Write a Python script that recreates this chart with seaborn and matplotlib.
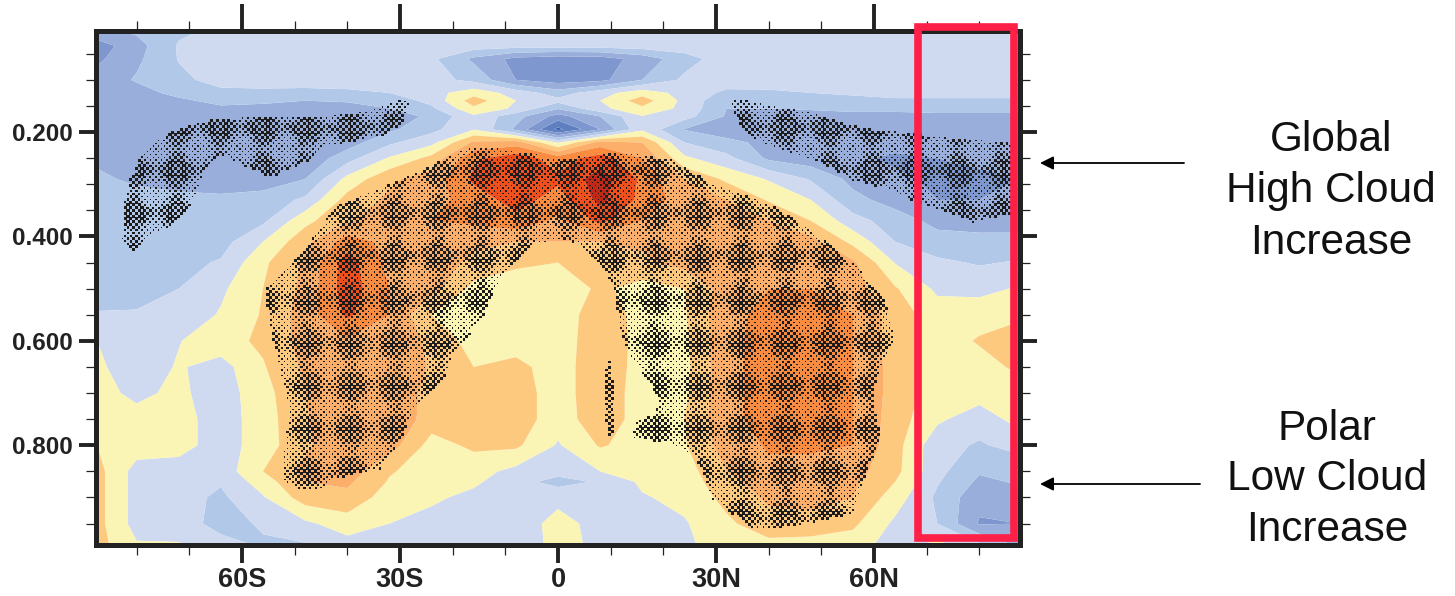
import numpy as np
import pandas as pd
import matplotlib
matplotlib.use("Agg")
import matplotlib.pyplot as plt
import seaborn as sns
from matplotlib.colors import ListedColormap, BoundaryNorm
from matplotlib.patches import Rectangle
from matplotlib.path import Path
from matplotlib.ticker import FixedLocator

# =========================
# Data
# =========================
lats = [-87.5, -80, -72, -64, -56, -48, -40, -32, -24, -16, -8, 0, 8, 16, 24, 32, 40, 48, 56, 64, 72, 80, 87.5]
sigmas = [0.005, 0.035, 0.06, 0.10, 0.125, 0.14, 0.155, 0.17, 0.195, 0.22, 0.25, 0.29, 0.33, 0.37, 0.41, 0.45, 0.50,
          0.55, 0.60, 0.65, 0.70, 0.75, 0.80, 0.85, 0.87, 0.90, 0.95, 0.991]

s005 = [-2.2, -1.8, -1.2, -0.8, -0.6, -0.5, -0.5, -0.5, -0.5, -0.5, -0.5, -0.5, -0.5, -0.5, -0.5, -0.5, -0.5, -0.5, -0.5, -0.5, -0.5, -0.5, -0.5]
s035 = [-3.5, -2.4, -0.9, -0.5, -0.5, -0.5, -0.5, -0.5, -0.5, -0.5, -0.6, -0.6, -0.6, -0.5, -0.5, -0.5, -0.5, -0.5, -0.5, -0.5, -0.5, -0.5, -0.5]
s060 = [-3.2, -2.2, -0.95, -0.5, -0.5, -0.5, -0.5, -0.5, -0.8, -2.2, -3.3, -3.6, -3.5, -2.6, -1.4, -0.5, -0.5, -0.5, -0.5, -0.5, -0.5, -0.5, -0.5]
s100 = [-2.6, -1.9, -1.2, -0.7, -0.6, -0.5, -0.5, -0.5, -0.6, -1.3, -3.0, -3.5, -3.3, -2.0, -0.8, -0.5, -0.7, -0.7, -0.6, -0.5, -0.5, -0.5, -0.5]
s125 = [-2.6, -2.4, -1.7, -1.2, -1.2, -1.3, -1.2, -1.0, -0.4, 0.6, -0.4, -1.5, -0.4, 0.6, -0.4, -1.2, -1.1, -1.0, -0.9, -0.8, -0.8, -0.8, -0.8]
s140 = [-2.6, -2.5, -2.2, -1.7, -1.8, -2.0, -1.9, -1.6, -0.7, 1.5, 0.0, -0.7, 0.0, 1.5, -0.3, -1.8, -1.6, -1.4, -1.2, -1.1, -1.1, -1.1, -1.1]
s155 = [-2.6, -2.6, -2.4, -2.2, -2.3, -2.5, -2.4, -2.0, -1.2, 0.8, -0.2, -1.9, -0.3, 0.8, -0.3, -2.0, -2.0, -1.9, -1.7, -1.7, -1.6, -1.6, -1.6]
s170 = [-2.6, -2.6, -2.6, -2.6, -2.7, -2.8, -2.7, -2.5, -1.8, -0.2, -1.6, -3.4, -2.0, -0.05, -0.6, -2.1, -2.3, -2.4, -2.4, -2.4, -2.3, -2.3, -2.3]
s195 = [-2.6, -2.6, -2.6, -2.6, -2.7, -2.8, -2.7, -2.2, -1.3, -0.05, -2.2, -5.3, -3.0, -0.2, -2.05, -2.6, -2.7, -2.8, -2.8, -2.8, -2.8, -2.8, -2.8]
s220 = [-2.5, -2.6, -2.7, -2.7, -2.8, -2.7, -2.5, -1.2, -0.3, 2.2, 2.5, -0.1, 2.4, 2.0, -1.0, -1.7, -2.3, -2.7, -2.8, -2.8, -2.8, -2.8, -2.8]
s250 = [-2.1, -2.6, -2.7, -2.7, -2.8, -2.8, -1.4, 0.1, 1.3, 3.8, 4.6, 3.5, 4.5, 3.0, 0.2, -0.7, -2.2, -2.6, -2.9, -3.1, -3.0, -2.9, -2.9]
s290 = [-1.9, -2.1, -2.3, -2.5, -2.5, -2.0, 0.3, 1.8, 2.5, 4.2, 5.0, 4.2, 5.5, 3.8, 2.0, 0.8, -0.1, -1.1, -2.3, -2.9, -3.1, -3.1, -3.0]
s330 = [-1.7, -1.8, -1.8, -1.8, -1.6, -0.8, 1.4, 2.2, 2.6, 3.5, 4.4, 3.6, 5.3, 3.7, 2.5, 2.0, 0.9, 0.0, -1.7, -2.4, -3.0, -3.0, -2.9]
s370 = [-1.6, -1.6, -1.6, -1.5, -1.2, 0.7, 1.9, 2.6, 3.0, 3.2, 3.7, 2.8, 4.3, 3.0, 2.5, 2.3, 2.0, 1.0, -0.6, -1.5, -2.3, -2.4, -2.4]
s410 = [-1.5, -1.5, -1.5, -1.4, 0.0, 1.7, 3.5, 2.7, 2.8, 2.3, 2.0, 2.0, 2.0, 2.2, 2.7, 2.6, 2.3, 2.4, 0.7, -1.0, -1.6, -1.7, -1.7]
s450 = [-1.4, -1.4, -1.3, -0.9, 0.8, 2.2, 4.5, 2.7, 2.7, 1.7, 1.2, 1.0, 1.3, 1.8, 2.4, 2.6, 2.8, 2.6, 2.2, -0.05, -0.8, -1.1, -0.9]
s500 = [-1.6, -1.4, -1.0, -0.2, 1.0, 2.3, 4.6, 3.0, 2.4, 0.7, 0.4, 0.3, 1.2, 0.6, 1.0, 2.5, 3.0, 3.0, 2.5, 1.1, -0.2, -0.3, 0.1]
s550 = [-0.9, -0.9, -0.7, 0.1, 1.1, 2.5, 4.2, 3.0, 1.0, 0.6, 0.5, 0.5, 1.5, 0.7, 0.9, 2.8, 3.2, 3.2, 3.0, 1.5, 0.5, 0.6, 0.7]
s600 = [0.0, -0.5, -0.05, 0.6, 1.2, 2.4, 2.9, 3.0, 1.7, 0.6, 0.5, 0.5, 1.6, 0.7, 0.8, 2.8, 3.3, 3.3, 3.0, 1.5, 0.5, 1.1, 1.8]
s650 = [0.2, -0.6, 0.1, -0.4, 0.9, 2.2, 2.8, 2.8, 1.9, 1.0, 1.3, 0.5, 1.7, 0.6, 0.7, 2.8, 3.3, 3.3, 3.0, 1.6, 0.5, 0.6, 1.2]
s700 = [0.3, -0.2, 0.2, -0.5, 0.6, 2.0, 2.8, 2.9, 1.6, 1.5, 1.5, 0.5, 1.7, 0.5, 0.8, 2.8, 3.3, 3.3, 3.0, 1.6, 0.5, 0.5, 0.5]
s750 = [0.6, 0.3, 0.4, -0.5, 0.5, 1.9, 2.9, 2.9, 1.5, 1.5, 1.6, 0.4, 1.7, 0.5, 1.0, 2.8, 3.3, 3.2, 3.0, 1.5, 0.2, -0.6, 0.4]
s800 = [1.0, 0.5, 0.4, -0.5, 0.5, 1.8, 2.9, 2.5, 0.6, 1.2, 1.2, -0.1, 1.1, 0.6, 0.9, 2.5, 3.1, 3.1, 3.0, 1.4, -0.7, -1.1, -0.7]
s850 = [1.35, -0.4, -0.5, -0.6, 1.0, 2.3, 2.6, 1.1, 0.5, 0.4, -0.3, -0.7, 0.0, 0.4, 0.5, 2.0, 2.8, 2.8, 2.4, 1.3, -0.7, -1.9, -1.6]
s870 = [1.35, -0.4, -0.5, -0.9, 0.5, 2.0, 2.2, 0.9, 0.4, 0.2, -0.7, -1.3, -0.9, 0.2, 0.4, 1.7, 2.5, 2.6, 2.2, 1.0, -0.9, -2.2, -1.9]
s900 = [1.35, -0.4, -0.6, -1.2, -0.1, 1.5, 1.7, 0.5, 0.2, -0.3, -0.7, -0.4, -0.8, -0.1, 0.3, 1.3, 2.2, 2.4, 2.0, 0.5, -1.2, -2.7, -2.4]
s950 = [1.35, -0.4, -0.6, -1.3, -0.9, -0.2, 0.5, 0.0, -0.4, -0.6, -0.8, 0.5, -0.5, -0.6, -0.1, 0.8, 1.6, 1.6, 1.2, -0.2, -1.0, -3.1, -3.0]
s991 = [1.4, 0.1, 0.1, -0.7, -1.1, -1.1, -0.4, -0.3, -0.5, -0.7, -0.6, 0.3, -0.2, -0.7, -0.2, 0.5, 0.7, 0.6, 0.5, -0.5, 0.3, -0.8, -2.2]

bands = [-6, -5, -4, -3, -2, -1, 0, 1, 2, 3, 4, 5, 7]
band_colors = ["#3f66b0", "#5f7fc0", "#7e97cf", "#9aaedb", "#b2c8e8", "#cfdaf1",
               "#fbf5b5", "#fdc97e", "#fcae6b", "#f98c40", "#f0501e", "#c02818"]

# stippled regions (significant change)
main_lat = [-17.3, -12.3, -7.2, -4.0, -3.4, 4.8, 9.9, 14.3, 21.9, 25.7, 28.8, 33.9, 39.6, 42.1, 45.9, 52.2, 56.7, 61.7,
            62.4, 63.9, 61.1, 59.8, 61.1, 57.9, 56, 52.2, 43.4, 37.1, 29.5, 26.3, 20.9, 14.3, 14.9, 18.7, 19, 15.6, 13, 11.8, 10.8,
            9.5, 4.2, 0.4, -4.7, -10.4, -12.3, -14.8, -19.9, -21.8, -25.6, -27.8, -30, -33.8, -36.9, -43.3, -45.2, -48.3,
            -52.4, -52.1, -50.9, -52.8, -54.3, -55.6, -50.9, -45.8, -42.6, -33.1, -28.7, -25.6, -21.8]
main_sig = [.231, .228, .241, .241, .254, .247, .240, .241, .254, .279, .298, .314, .337, .349, .375, .420, .458, .515,
            .535, .595, .650, .707, .784, .873, .931, .940, .956, .959, .905, .822, .793, .787, .755, .739, .707, .656, .614, .579, .503,
            .477, .413, .407, .413, .471, .509, .563, .624, .675, .707, .742, .790, .844, .851, .867, .886, .886,
            .867, .822, .733, .650, .586, .503, .458, .394, .343, .305, .286, .273, .254]
south_lat = [-29.4, -28.4, -29.4, -33.1, -36.9, -39.5, -44.5, -48.3, -54.6, -59.1, -61.6, -64.1, -66.7, -68.3, -69.8, -74.3,
             -76.8, -80.6, -83.1, -82.2, -82.5, -81.2, -79.3, -74.3, -67.3, -59.1, -45.8, -38.8, -33.1]
south_sig = [.136, .145, .183, .206, .212, .219, .228, .260, .286, .266, .254, .241, .266, .305, .343, .385,
             .394, .429, .410, .388, .343, .292, .247, .203, .180, .172, .171, .164, .151]
north_lat = [32.6, 35.2, 39.6, 47.8, 56.7, 66.2, 75.7, 87.0, 87.0, 78.8, 72.5, 66.8, 63.6, 56, 50.3, 42.1, 37.7, 34.5]
north_sig = [.139, .139, .148, .161, .190, .203, .212, .222, .353, .372, .349, .330, .311, .292, .260, .234, .215, .183]
lobe_lat = [9.5, 10.2, 10.5, 10.5, 9.5, 8.9, 8.9]
lobe_sig = [.634, .650, .720, .784, .780, .720, .675]
tip_lat = [-0.5, 7, 7, -0.5]
tip_sig = [.0985, .0985, .1025, .1025]

x_ticks = [-60, -30, 0, 30, 60]
x_labels = ["60S", "30S", "0", "30N", "60N"]
y_ticks = [0.2, 0.4, 0.6, 0.8]
y_labels = ["0.200", "0.400", "0.600", "0.800"]
notes_top = ["Global", "High Cloud", "Increase"]
notes_bottom = ["Polar", "Low Cloud", "Increase"]

# =========================
# Figure
# =========================
sns.set_theme(style="ticks")
plt.rcParams["font.family"] = ["Liberation Sans", "DejaVu Sans"]

W, H = 1455, 596
fig = plt.figure(figsize=(W / 100, H / 100), dpi=100)
ax = fig.add_axes([96 / W, 1 - 545 / H, (1020.5 - 96) / W, (545 - 31) / H])

field = np.array([s005, s035, s060, s100, s125, s140, s155, s170, s195, s220, s250, s290, s330, s370, s410, s450, s500,
                  s550, s600, s650, s700, s750, s800, s850, s870, s900, s950, s991])
cmap = ListedColormap(sns.color_palette(band_colors))
ax.contourf(lats, sigmas, field, levels=bands, cmap=cmap, norm=BoundaryNorm(bands, cmap.N), antialiased=True)

ax.set_xlim(-87.7, 87.8)
ax.set_ylim(0.991, 0.0065)

# =========================
# Stippling
# =========================
step_x = 5.6 / 5.27
step_y = 2.8 / 522
grid_x, grid_y = np.meshgrid(np.arange(-88, 88, step_x), np.arange(0.05, 0.99, step_y))
grid_x[1::2] += step_x / 2
pts = np.column_stack([grid_x.ravel(), grid_y.ravel()])

keep = np.zeros(len(pts), dtype=bool)
for r_lat, r_sig in [(main_lat, main_sig), (south_lat, south_sig), (north_lat, north_sig),
                     (lobe_lat, lobe_sig), (tip_lat, tip_sig)]:
    keep |= Path(np.column_stack([r_lat, r_sig])).contains_points(pts)
pts = pts[keep]

# dots swell into the diamond pattern of the original
u = (pts[:, 0] + 47.6) / 8.25
v = (pts[:, 1] - 0.604) / 0.0824
weight = 0.5 + 0.25 * (np.cos(2 * np.pi * u) + np.cos(2 * np.pi * v))
weight = np.clip((weight - 0.3) / 0.45, 0, 1)
dots = pd.DataFrame({"lat": pts[:, 0], "sigma": pts[:, 1], "w": weight})
sns.scatterplot(data=dots, x="lat", y="sigma", size="w", sizes=(1.0, 5.0), marker="s",
                color="#1c1c1c", linewidth=0, legend=False, ax=ax, zorder=3)
ax.set_xlabel("")
ax.set_ylabel("")

# =========================
# Axes frame and ticks
# =========================
for side in ax.spines.values():
    side.set_linewidth(3.6)
    side.set_color("#222222")

ax.set_xticks(x_ticks, x_labels, fontsize=19.5, fontweight="bold", color="#222222")
ax.set_yticks(y_ticks, y_labels, fontsize=17.5, fontweight="bold", color="#222222")
ax.xaxis.set_minor_locator(FixedLocator([t for t in range(-80, 81, 10) if t % 30 != 0]))
ax.yaxis.set_minor_locator(FixedLocator([t / 100 for t in range(5, 100, 5) if t % 20 != 0]))
ax.tick_params(which="major", length=12, width=2.8, color="#222222", top=True, right=True, pad=5)
ax.tick_params(which="minor", length=7, width=0.9, color="#222222", top=True, right=True)
ax.tick_params(axis="x", which="major", length=13, pad=3)
for t in ax.xaxis.get_major_ticks():
    t.tick2line.set_markersize(19.5)

# =========================
# Red box and annotations
# =========================
ax.add_patch(Rectangle((68.3, -0.0017), 86.5 - 68.3, 0.978 + 0.0017, fill=False, edgecolor="#ff2048",
                       linewidth=5.5, joinstyle="miter", clip_on=False, zorder=5))


def to_fig(px, py):
    return px / W, 1 - py / H


for note, py in zip(notes_top, [140, 191, 243]):
    fig.text(*to_fig(1331, py), note, fontsize=30.5, ha="center", va="center", color="#111111")
for note, py in zip(notes_bottom, [429, 479, 530]):
    fig.text(*to_fig(1327, py), note, fontsize=30.5, ha="center", va="center", color="#111111")

for x_start, py in [(1184, 163), (1200, 484)]:
    fig.add_artist(matplotlib.patches.FancyArrowPatch(
        to_fig(x_start, py), to_fig(1040, py), transform=fig.transFigure, arrowstyle="-|>",
        mutation_scale=20, linewidth=1.3, color="black", shrinkA=0, shrinkB=0))

plt.savefig("out.png", dpi=100)
plt.close()
